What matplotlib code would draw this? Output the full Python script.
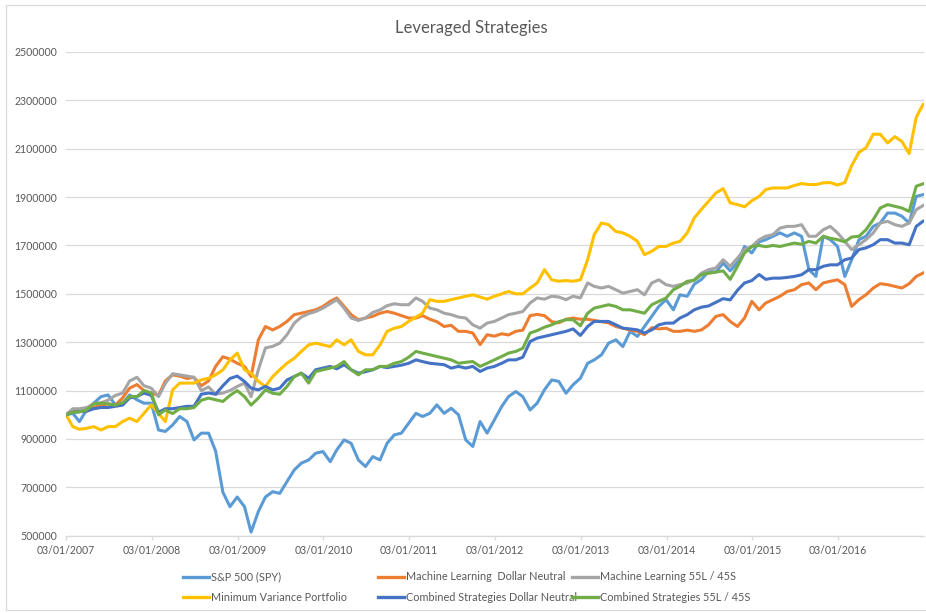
import pandas as pd
import matplotlib
matplotlib.use("Agg")
import matplotlib.pyplot as plt
import matplotlib.dates as mdates
from matplotlib.lines import Line2D
from matplotlib.patches import Rectangle

plt.rcParams['font.family'] = ['Lato', 'DejaVu Sans']

# first trading day, month starts, last trading day
dates = ([pd.Timestamp("2007-01-03")]
         + list(pd.date_range("2007-02-01", "2016-12-01", freq="MS"))
         + [pd.Timestamp("2016-12-30")])

# values in thousands
spy = [1000, 1006, 972, 1020, 1048, 1075, 1082, 1041, 1048, 1082, 1062, 1048,
       1048, 937, 931, 958, 993, 972, 896, 924, 924, 850, 680, 620,
       660, 620, 515, 600, 660, 682, 675, 724, 772, 800, 813, 841,
       848, 806, 855, 896, 882, 813, 786, 827, 813, 882, 917, 924,
       965, 1006, 993, 1006, 1041, 1006, 1027, 1000, 896, 869, 972, 924,
       979, 1034, 1075, 1096, 1075, 1020, 1048, 1103, 1144, 1138, 1089, 1124,
       1151, 1213, 1227, 1248, 1296, 1310, 1282, 1345, 1324, 1365, 1407, 1448,
       1476, 1434, 1496, 1490, 1540, 1560, 1593, 1590, 1627, 1595, 1630, 1696,
       1669, 1715, 1724, 1738, 1752, 1738, 1752, 1738, 1600, 1572, 1738, 1724,
       1696, 1572, 1641, 1724, 1738, 1779, 1793, 1834, 1834, 1821, 1793, 1903,
       1910]
ml_dn = [1000, 1020, 1015, 1015, 1030, 1040, 1045, 1040, 1070, 1110, 1125, 1100,
         1090, 1080, 1140, 1165, 1160, 1150, 1155, 1120, 1140, 1200, 1240, 1230,
         1213, 1200, 1158, 1310, 1365, 1351, 1365, 1386, 1414, 1420, 1427, 1434,
         1448, 1469, 1483, 1448, 1414, 1393, 1400, 1407, 1420, 1427, 1420, 1410,
         1400, 1400, 1410, 1395, 1385, 1365, 1370, 1345, 1345, 1338, 1290, 1331,
         1325, 1335, 1330, 1345, 1350, 1410, 1415, 1410, 1385, 1380, 1395, 1400,
         1395, 1395, 1390, 1385, 1380, 1365, 1358, 1350, 1345, 1331, 1360, 1355,
         1358, 1345, 1345, 1350, 1345, 1351, 1372, 1407, 1414, 1386, 1365, 1400,
         1469, 1434, 1462, 1476, 1490, 1510, 1517, 1538, 1545, 1517, 1545, 1552,
         1558, 1538, 1448, 1476, 1496, 1524, 1542, 1538, 1531, 1524, 1542, 1572,
         1586]
ml_55 = [1000, 1025, 1025, 1030, 1045, 1050, 1060, 1080, 1090, 1140, 1155, 1120,
         1110, 1075, 1130, 1170, 1165, 1160, 1155, 1100, 1115, 1085, 1090, 1100,
         1117, 1131, 1075, 1186, 1276, 1283, 1296, 1331, 1379, 1404, 1418, 1427,
         1441, 1459, 1476, 1441, 1400, 1390, 1400, 1423, 1434, 1451, 1459, 1455,
         1455, 1483, 1469, 1441, 1434, 1420, 1414, 1404, 1400, 1372, 1358, 1379,
         1386, 1400, 1414, 1420, 1427, 1462, 1483, 1478, 1490, 1487, 1476, 1490,
         1483, 1545, 1531, 1524, 1531, 1517, 1503, 1510, 1517, 1496, 1545, 1558,
         1538, 1531, 1538, 1545, 1558, 1586, 1600, 1607, 1641, 1614, 1648, 1683,
         1696, 1724, 1738, 1745, 1772, 1779, 1779, 1786, 1738, 1738, 1765, 1779,
         1752, 1717, 1683, 1703, 1724, 1752, 1793, 1800, 1786, 1779, 1793, 1848,
         1865]
min_var = [1000, 951, 940, 944, 951, 937, 951, 951, 972, 986, 972, 1006,
           1041, 1006, 972, 1103, 1131, 1131, 1131, 1144, 1151, 1165, 1186, 1227,
           1255, 1186, 1172, 1138, 1117, 1158, 1186, 1213, 1234, 1262, 1289, 1296,
           1289, 1282, 1310, 1289, 1310, 1262, 1248, 1248, 1289, 1345, 1358, 1365,
           1386, 1404, 1420, 1476, 1469, 1469, 1476, 1483, 1490, 1496, 1487, 1478,
           1490, 1500, 1510, 1500, 1500, 1524, 1545, 1600, 1558, 1552, 1555, 1552,
           1558, 1641, 1745, 1793, 1786, 1758, 1752, 1738, 1717, 1662, 1676, 1696,
           1696, 1710, 1717, 1752, 1814, 1850, 1883, 1917, 1935, 1876, 1869, 1860,
           1885, 1903, 1931, 1938, 1938, 1938, 1948, 1956, 1952, 1952, 1959, 1960,
           1950, 1960, 2030, 2085, 2104, 2160, 2160, 2124, 2150, 2130, 2080, 2230,
           2283]
comb_dn = [1000, 1010, 1013, 1015, 1025, 1030, 1030, 1035, 1040, 1070, 1075, 1090,
           1080, 1010, 1025, 1025, 1030, 1035, 1035, 1085, 1090, 1085, 1120, 1150,
           1160, 1138, 1110, 1103, 1117, 1103, 1110, 1144, 1158, 1172, 1151, 1186,
           1193, 1200, 1190, 1207, 1186, 1172, 1178, 1186, 1200, 1195, 1200, 1205,
           1213, 1227, 1220, 1213, 1210, 1207, 1193, 1200, 1193, 1200, 1179, 1193,
           1200, 1213, 1227, 1227, 1238, 1303, 1317, 1324, 1331, 1338, 1345, 1355,
           1328, 1365, 1386, 1386, 1386, 1372, 1358, 1355, 1351, 1338, 1351, 1372,
           1379, 1379, 1400, 1414, 1434, 1445, 1450, 1465, 1480, 1475, 1515, 1545,
           1555, 1580, 1560, 1565, 1565, 1568, 1572, 1579, 1600, 1600, 1614, 1620,
           1620, 1641, 1648, 1683, 1690, 1703, 1724, 1724, 1710, 1710, 1703, 1779,
           1800]
comb_55 = [1000, 1010, 1012, 1020, 1045, 1048, 1045, 1040, 1050, 1075, 1075, 1100,
           1090, 1000, 1020, 1005, 1025, 1025, 1030, 1060, 1069, 1062, 1055, 1080,
           1100, 1075, 1040, 1069, 1103, 1089, 1085, 1117, 1158, 1172, 1131, 1179,
           1186, 1193, 1200, 1220, 1186, 1165, 1186, 1186, 1200, 1200, 1213, 1220,
           1238, 1262, 1255, 1248, 1241, 1234, 1227, 1213, 1217, 1220, 1200, 1213,
           1227, 1241, 1255, 1262, 1275, 1338, 1348, 1362, 1372, 1385, 1393, 1393,
           1368, 1420, 1441, 1448, 1455, 1448, 1434, 1434, 1427, 1420, 1455, 1469,
           1483, 1517, 1531, 1552, 1556, 1580, 1585, 1590, 1595, 1560, 1614, 1669,
           1696, 1700, 1695, 1700, 1696, 1703, 1710, 1705, 1717, 1710, 1738, 1730,
           1724, 1715, 1735, 1738, 1765, 1807, 1855, 1869, 1862, 1855, 1841, 1945,
           1955]

labels = ["S&P 500 (SPY)", "Machine Learning  Dollar Neutral", "Machine Learning 55L / 45S",
          "Minimum Variance Portfolio", "Combined Strategies Dollar Neutral",
          "Combined Strategies 55L / 45S"]
colors = ["#5B9BD5", "#ED7D31", "#A5A5A5", "#FFC000", "#4472C4", "#70AD47"]
series = [spy, ml_dn, ml_55, min_var, comb_dn, comb_55]

text_col = "#595959"
grid_col = "#D9D9D9"

fig = plt.figure(figsize=(9.26, 6.13), dpi=100)
ax = fig.add_axes([66 / 926, 1 - 535.7 / 613, 857.5 / 926, (535.7 - 52) / 613])

for vals, col in zip(series, colors):
    ax.plot(dates, [v * 1000 for v in vals], color=col, lw=2.2, solid_joinstyle="round")

ax.set_ylim(500000, 2500000)
ax.set_yticks(range(500000, 2500001, 200000))
ax.yaxis.set_major_formatter(matplotlib.ticker.FuncFormatter(lambda v, p: "%d" % v))
ax.set_xlim(pd.Timestamp("2007-01-03"), pd.Timestamp("2017-01-01"))
ax.set_xticks([pd.Timestamp("%d-01-03" % y) for y in range(2007, 2017)])
ax.xaxis.set_major_formatter(mdates.DateFormatter("%d/%m/%Y"))

ax.grid(axis="y", color=grid_col, lw=0.9)
ax.set_axisbelow(True)
for s in ["top", "right", "left"]:
    ax.spines[s].set_visible(False)
ax.spines["bottom"].set_color(grid_col)
ax.spines["bottom"].set_linewidth(0.9)
ax.tick_params(axis="y", length=0, pad=6.5, labelsize=7.6, labelcolor=text_col)
ax.tick_params(axis="x", length=3, width=0.9, color=grid_col, pad=4,
               labelsize=7.6, labelcolor=text_col)

fig.text(471 / 926, 1 - 28 / 613, "Leveraged Strategies", ha="center", va="center",
         fontsize=12, color=text_col)

# legend: three equal-width columns, filled row by row
col_x = [183, 378, 572]
for c in range(3):
    hs = [Line2D([], [], color=colors[c], lw=2.4), Line2D([], [], color=colors[c + 3], lw=2.4)]
    fig.legend(hs, [labels[c], labels[c + 3]], loc="upper left",
               bbox_to_anchor=(col_x[c] / 926, 1 - 571.5 / 613), frameon=False,
               fontsize=7.8, labelcolor=text_col, handlelength=2.4, handletextpad=0.2,
               borderpad=0, borderaxespad=0, labelspacing=0.85)

fig.patches.append(Rectangle((6 / 926, 1 - 610 / 613), 930 / 926, 605 / 613,
                             transform=fig.transFigure, fill=False,
                             edgecolor=grid_col, lw=0.9))

fig.savefig("out.png", dpi=100)
